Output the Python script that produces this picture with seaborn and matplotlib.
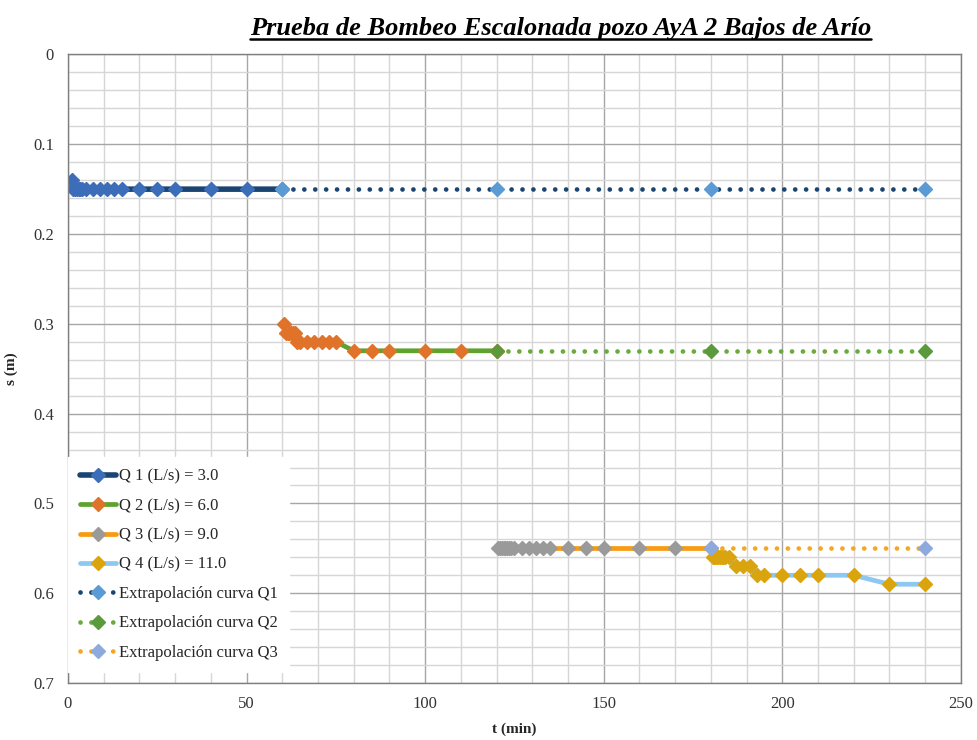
import matplotlib
matplotlib.use("Agg")
import matplotlib.pyplot as plt
from matplotlib.lines import Line2D
import pandas as pd
import seaborn as sns

# drawdown readings of the step test
t_q1 = [1, 1.5, 2, 2.5, 3, 3.5, 4, 5, 7, 9, 11, 13, 15, 20, 25, 30, 40, 50, 60]
s_q1 = [0.14, 0.15, 0.15, 0.15, 0.15, 0.15, 0.15, 0.15, 0.15, 0.15,
        0.15, 0.15, 0.15, 0.15, 0.15, 0.15, 0.15, 0.15, 0.15]

t_q2 = [60.5, 61, 61.5, 62, 62.5, 63, 63.5, 64, 65, 67, 69, 71, 73, 75,
        80, 85, 90, 100, 110, 120]
s_q2 = [0.30, 0.31, 0.31, 0.31, 0.31, 0.31, 0.31, 0.32, 0.32, 0.32, 0.32,
        0.32, 0.32, 0.32, 0.33, 0.33, 0.33, 0.33, 0.33, 0.33]

t_q3 = [120.5, 121, 121.5, 122, 122.5, 123, 123.5, 124, 125, 127, 129, 131,
        133, 135, 140, 145, 150, 160, 170, 180]
s_q3 = [0.55, 0.55, 0.55, 0.55, 0.55, 0.55, 0.55, 0.55, 0.55, 0.55, 0.55,
        0.55, 0.55, 0.55, 0.55, 0.55, 0.55, 0.55, 0.55, 0.55]

t_q4 = [180.5, 181, 181.5, 182, 182.5, 183, 183.5, 184, 185, 187, 189, 191,
        193, 195, 200, 205, 210, 220, 230, 240]
s_q4 = [0.56, 0.56, 0.56, 0.56, 0.56, 0.56, 0.56, 0.56, 0.56, 0.57, 0.57,
        0.57, 0.58, 0.58, 0.58, 0.58, 0.58, 0.58, 0.59, 0.59]

# extrapolated curves
t_ext1 = [60, 120, 180, 240]
s_ext1 = [0.15, 0.15, 0.15, 0.15]
t_ext2 = [120, 180, 240]
s_ext2 = [0.33, 0.33, 0.33]
t_ext3 = [180, 240]
s_ext3 = [0.55, 0.55]

labels = ["Q 1 (L/s) = 3.0", "Q 2 (L/s) = 6.0", "Q 3 (L/s) = 9.0",
          "Q 4 (L/s) = 11.0", "Extrapolación curva Q1",
          "Extrapolación curva Q2", "Extrapolación curva Q3"]

x_ticks = [0, 50, 100, 150, 200, 250]
y_ticks = [0, 0.1, 0.2, 0.3, 0.4, 0.5, 0.6, 0.7]
y_tick_labels = ["0", "0.1", "0.2", "0.3", "0.4", "0.5", "0.6", "0.7"]

sns.set_style("white")
plt.rcParams["font.family"] = ["Liberation Serif", "DejaVu Serif"]

fig = plt.figure(figsize=(9.78, 7.40), dpi=100)
ax = fig.add_axes([0.0695, 0.077, 0.913, 0.8494])

# (times, drawdowns, line colour, marker colour, line width)
measured = [
    (t_q1, s_q1, "#1A4472", "#3C6DB9", 4.0),
    (t_q2, s_q2, "#5EA32E", "#E0722A", 3.4),
    (t_q3, s_q3, "#F79B12", "#9A9A9A", 3.4),
    (t_q4, s_q4, "#8DC8F0", "#D9A40E", 3.4),
]
extrap = [
    (t_ext1, s_ext1, "#1A4472", "#5B9BD5"),
    (t_ext2, s_ext2, "#6AAB3E", "#5B9A3C"),
    (t_ext3, s_ext3, "#F5A623", "#8EA9DB"),
]

i = 0
for t, s, lc, mc, lw in measured:
    df = pd.DataFrame({"t": t, "s": s})
    sns.lineplot(data=df, x="t", y="s", ax=ax, sort=False, estimator=None,
                 color=lc, linewidth=lw, marker="D", markersize=7,
                 markerfacecolor=mc, markeredgecolor=mc, markeredgewidth=1,
                 label=labels[i], legend=False)
    i += 1

for t, s, lc, mc in extrap:
    df = pd.DataFrame({"t": t, "s": s})
    sns.lineplot(data=df, x="t", y="s", ax=ax, sort=False, estimator=None,
                 color=lc, linewidth=3.4, linestyle=(0, (0.01, 2.3)),
                 dash_capstyle="round", marker="D", markersize=7,
                 markerfacecolor=mc, markeredgecolor=mc, markeredgewidth=1,
                 label=labels[i], legend=False)
    i += 1

ax.set_xlim(0, 250)
ax.set_ylim(0.7, 0)
ax.set_xticks(x_ticks)
ax.set_xticks(range(0, 251, 10), minor=True)
ax.set_yticks(y_ticks)
ax.set_yticklabels(y_tick_labels)
ax.set_yticks([v / 100 for v in range(0, 71, 2)], minor=True)
ax.grid(which="major", color="#A6A6A6", linewidth=1)
ax.grid(which="minor", color="#D6D6D6", linewidth=1)
ax.set_axisbelow(True)
ax.tick_params(which="both", length=0, labelsize=12, colors="#333333")
ax.tick_params(axis="x", pad=9)
ax.tick_params(axis="y", pad=10)
for sp in ax.spines.values():
    sp.set_color("#7F7F7F")
    sp.set_linewidth(1)

ax.set_xlabel("t (min)", fontsize=11, fontweight="bold", labelpad=8)
ax.set_ylabel("s (m)", fontsize=11, fontweight="bold")
ax.yaxis.set_label_coords(-0.056, 0.5)

handles, lbls = ax.get_legend_handles_labels()
leg = ax.legend(handles, lbls, loc="lower left", bbox_to_anchor=(0, 0.017),
                borderaxespad=0, numpoints=1, fontsize=12, frameon=True,
                fancybox=False, framealpha=1, facecolor="white",
                edgecolor="white", handlelength=2.2, handletextpad=0.15,
                labelspacing=0.8, borderpad=0.7)
leg.set_zorder(5)

title = fig.text(0.573, 0.962, "Prueba de Bombeo Escalonada pozo AyA 2 Bajos de Arío",
                 ha="center", va="center", fontsize=19, fontweight="bold",
                 fontstyle="italic", color="black")

# underline the title like the original
fig.canvas.draw()
bb = title.get_window_extent()
W, H = fig.bbox.width, fig.bbox.height
yl = (bb.y0 + 1) / H
fig.add_artist(Line2D([bb.x0 / W, bb.x1 / W], [yl, yl], transform=fig.transFigure,
                      color="black", linewidth=1.8))

fig.savefig("out.png", dpi=100)
